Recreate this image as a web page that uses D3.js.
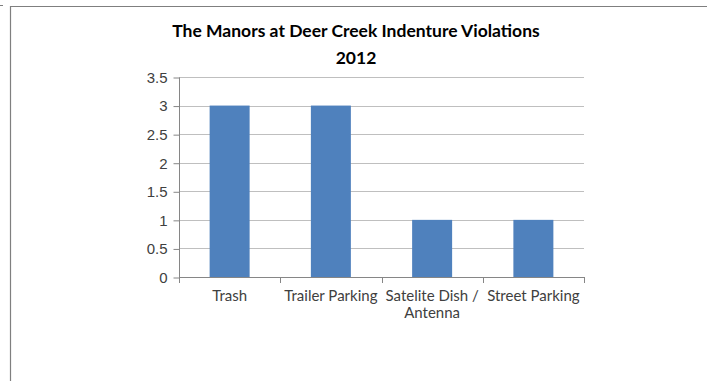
<!DOCTYPE html>
<html>
<head>
<meta charset="utf-8">
<script src="https://cdn.jsdelivr.net/npm/d3@7"></script>
<style>
  body { margin: 0; background: #fff; }
  svg { display: block; font-family: Lato, "Open Sans", sans-serif; }
</style>
</head>
<body>
<script>
// chart data
var categories = ["Trash", "Trailer Parking", "Satelite Dish / Antenna", "Street Parking"];
var violations = [3, 3, 1, 1];
var yTicks = [0, 0.5, 1, 1.5, 2, 2.5, 3, 3.5];
var titleLines = ["The Manors at Deer Creek Indenture Violations", "2012"];

var width = 709, height = 381;

var svg = d3.select("body")
	.append("svg")
	.attr("width", width)
	.attr("height", height);

// frame of the chart object
svg.append("path")
	.attr("d", "M10.5,381 V6.5 H707")
	.attr("fill", "none")
	.attr("stroke", "#7f7f7f")
	.attr("stroke-width", 1.2);
svg.append("line")
	.attr("x1", 0).attr("x2", 3)
	.attr("y1", 5.5).attr("y2", 5.5)
	.attr("stroke", "#7f7f7f");

// plot area
var plot = {left: 179, right: 584, top: 77, bottom: 277};

var xScale = d3.scaleBand()
	.domain(categories)
	.range([plot.left, plot.right])
	.paddingInner(0.605)
	.paddingOuter(0.3025);

var yScale = d3.scaleLinear()
	.domain([0, 3.5])
	.range([plot.bottom, plot.top]);

// gridlines
svg.append("g")
	.selectAll("line")
	.data(yTicks.filter(function(d){ return d > 0; }))
	.enter()
	.append("line")
	.attr("x1", plot.left)
	.attr("x2", plot.right)
	.attr("y1", function(d){ return Math.round(yScale(d)) + 0.5; })
	.attr("y2", function(d){ return Math.round(yScale(d)) + 0.5; })
	.attr("stroke", "#bfbfbf")
	.attr("stroke-width", 1.2);

// bars
svg.append("g")
	.selectAll("rect")
	.data(violations)
	.enter()
	.append("rect")
	.attr("x", function(d, i){ return xScale(categories[i]); })
	.attr("y", function(d){ return yScale(d); })
	.attr("width", xScale.bandwidth())
	.attr("height", function(d){ return yScale(0) - yScale(d); })
	.attr("fill", "#4f81bd");

// y axis
var yAxis = svg.append("g")
	.attr("transform", "translate(" + (plot.left + 0.5) + ",0.5)")
	.call(d3.axisLeft(yScale)
		.tickValues(yTicks)
		.tickSize(6)
		.tickPadding(6)
		.tickFormat(function(d){ return String(d); }));
yAxis.select(".domain").attr("stroke", "#868686").attr("d", "M0," + plot.top + "V" + plot.bottom);
yAxis.selectAll(".tick line").attr("stroke", "#868686");
yAxis.selectAll(".tick text")
	.attr("fill", "#404040")
	.style("font-size", "15px");

// x axis with ticks at the category boundaries
var step = xScale.step();
var boundaries = d3.range(categories.length + 1).map(function(i){ return plot.left + i * step; });

var xAxis = svg.append("g");
xAxis.append("line")
	.attr("x1", plot.left).attr("x2", plot.right)
	.attr("y1", plot.bottom + 0.5).attr("y2", plot.bottom + 0.5)
	.attr("stroke", "#868686");
xAxis.selectAll(".bound")
	.data(boundaries)
	.enter()
	.append("line")
	.attr("class", "bound")
	.attr("x1", function(d){ return Math.round(d) + 0.5; })
	.attr("x2", function(d){ return Math.round(d) + 0.5; })
	.attr("y1", plot.bottom)
	.attr("y2", plot.bottom + 6)
	.attr("stroke", "#868686");

// category labels, wrapped on "/ "
xAxis.selectAll(".lab")
	.data(categories)
	.enter()
	.append("text")
	.attr("class", "lab")
	.attr("text-anchor", "middle")
	.attr("fill", "#404040")
	.style("font-size", "15px")
	.each(function(d){
		var lines = d.indexOf("/ ") > 0 ? [d.slice(0, d.indexOf("/ ") + 1), d.slice(d.indexOf("/ ") + 2)] : [d];
		var t = d3.select(this);
		lines.forEach(function(l, i){
			t.append("tspan")
				.attr("x", xScale(d) + xScale.bandwidth() / 2)
				.attr("y", 301 + i * 17)
				.text(l);
		});
	});

// title
svg.append("g")
	.selectAll("text")
	.data(titleLines)
	.enter()
	.append("text")
	.attr("x", 356)
	.attr("y", function(d, i){ return 37 + i * 27; })
	.attr("text-anchor", "middle")
	.attr("fill", "#000")
	.style("font-size", "17.5px")
	.style("font-weight", "bold")
	.text(function(d){ return d; });
</script>
</body>
</html>
